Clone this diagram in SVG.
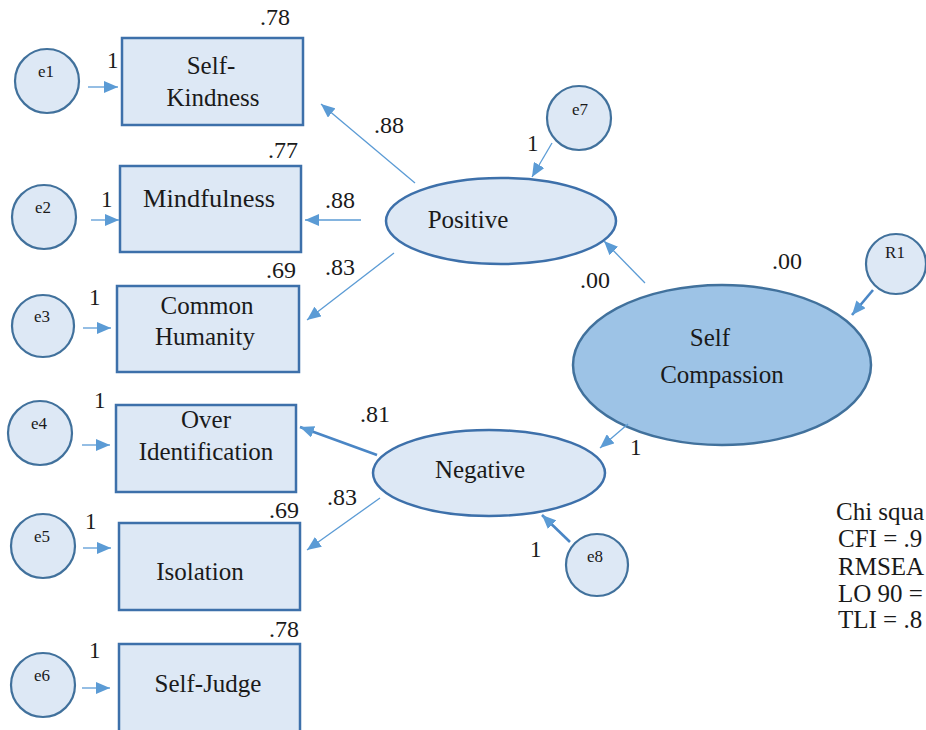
<svg xmlns="http://www.w3.org/2000/svg" width="926" height="730" viewBox="0 0 926 730">
  <defs>
    <marker id="arrow" markerUnits="userSpaceOnUse" markerWidth="15" markerHeight="12" refX="14" refY="6" orient="auto">
      <path d="M0,0 L14,6 L0,12 z" fill="#5b9bd5"/>
    </marker>
    <style>
      .box { fill: #dde8f5; stroke: #3d70aa; stroke-width: 2.5; }
      .err { fill: #dde8f5; stroke: #41719c; stroke-width: 2.2; }
      .lat { fill: #dde8f5; stroke: #3d70aa; stroke-width: 2.5; }
      .main { fill: #9dc3e6; stroke: #41719c; stroke-width: 2.5; }
      .thin { stroke: #5b9bd5; stroke-width: 1.3; fill: none; marker-end: url(#arrow); }
      .thick { stroke: #4a86c5; stroke-width: 2.6; fill: none; marker-end: url(#arrow); }
    </style>
  </defs>

  <!-- indicators -->
  <g id="self-kindness">
    <rect class="box" x="122" y="38" width="181" height="87"/>
  </g>
  <g id="mindfulness">
    <rect class="box" x="120" y="166" width="181" height="86"/>
  </g>
  <g id="common-humanity">
    <rect class="box" x="117" y="286" width="182" height="86"/>
  </g>
  <g id="over-identification">
    <rect class="box" x="116" y="405" width="180" height="87"/>
  </g>
  <g id="isolation">
    <rect class="box" x="119" y="523" width="181" height="87"/>
  </g>
  <g id="self-judge">
    <rect class="box" x="119" y="644" width="181" height="88"/>
  </g>

  <!-- error terms -->
  <g id="e1"><circle class="err" cx="47" cy="81" r="32"/></g>
  <g id="e2"><circle class="err" cx="44" cy="217" r="32"/></g>
  <g id="e3"><circle class="err" cx="43" cy="326" r="31"/></g>
  <g id="e4"><circle class="err" cx="40" cy="433" r="32"/></g>
  <g id="e5"><circle class="err" cx="43" cy="546" r="32"/></g>
  <g id="e6"><circle class="err" cx="43" cy="685" r="32"/></g>
  <g id="e7"><circle class="err" cx="579" cy="118" r="32"/></g>
  <g id="e8"><circle class="err" cx="597" cy="565" r="31"/></g>
  <g id="r1"><circle class="err" cx="896" cy="264" r="30"/></g>

  <!-- latent factors -->
  <g id="positive">
    <ellipse class="lat" cx="501" cy="221" rx="115" ry="43"/>
  </g>
  <g id="negative">
    <ellipse class="lat" cx="489" cy="473" rx="116" ry="43"/>
  </g>
  <g id="self-compassion">
    <ellipse class="main" cx="722" cy="365" rx="149" ry="80"/>
  </g>

  <!-- paths -->
  <g id="connectors">
    <line class="thin" x1="88" y1="87" x2="118" y2="87"/>
    <line class="thin" x1="91" y1="220" x2="119" y2="220"/>
    <line class="thin" x1="83" y1="328" x2="111" y2="328"/>
    <line class="thin" x1="82" y1="445" x2="110" y2="445"/>
    <line class="thin" x1="83" y1="548" x2="111" y2="548"/>
    <line class="thin" x1="82" y1="688" x2="110" y2="688"/>

    <line class="thin" x1="415" y1="183" x2="321" y2="104"/>
    <line class="thin" x1="361" y1="220" x2="305" y2="220"/>
    <line class="thin" x1="394" y1="253" x2="307" y2="320"/>
    <line class="thin" x1="552" y1="143" x2="532" y2="177"/>
    <line class="thin" x1="645" y1="283" x2="604" y2="241"/>

    <line class="thick" x1="377" y1="455" x2="300" y2="427"/>
    <line class="thin" x1="380" y1="498" x2="307" y2="550"/>
    <line class="thin" x1="628" y1="424" x2="600" y2="448"/>
    <line class="thick" x1="570" y1="542" x2="542" y2="515"/>
    <line class="thick" x1="873" y1="290" x2="852" y2="315"/>
  </g>

  <!-- all lettering, set in a Times-metric serif -->
  <g id="labels" font-family="Liberation Serif, Times New Roman, serif" fill="#1a1a1a">
    <g font-size="25" text-anchor="middle">
      <text x="211" y="74">Self-</text>
      <text x="213" y="106">Kindness</text>
      <text x="209" y="207" textLength="132" lengthAdjust="spacingAndGlyphs">Mindfulness</text>
      <text x="207" y="314">Common</text>
      <text x="205" y="345">Humanity</text>
      <text x="206" y="428">Over</text>
      <text x="206" y="460">Identification</text>
      <text x="200" y="580">Isolation</text>
      <text x="208" y="692">Self-Judge</text>
      <text x="468" y="228">Positive</text>
      <text x="480" y="478">Negative</text>
      <text x="710" y="346">Self</text>
      <text x="722" y="383">Compassion</text>
    </g>
    <g font-size="24" text-anchor="end">
      <text x="290" y="25">.78</text>
      <text x="298" y="158">.77</text>
      <text x="296" y="278">.69</text>
      <text x="299" y="518">.69</text>
      <text x="299" y="637">.78</text>
    </g>
    <g font-size="24">
      <text x="772" y="269">.00</text>
      <text x="374" y="133">.88</text>
      <text x="325" y="208">.88</text>
      <text x="325" y="275">.83</text>
      <text x="580" y="288">.00</text>
      <text x="360" y="422">.81</text>
      <text x="327" y="505">.83</text>
    </g>
    <g font-size="17" text-anchor="middle">
      <text x="46" y="77">e1</text>
      <text x="43" y="213">e2</text>
      <text x="42" y="322">e3</text>
      <text x="39" y="429">e4</text>
      <text x="42" y="542">e5</text>
      <text x="42" y="681">e6</text>
      <text x="580" y="115">e7</text>
      <text x="595" y="562">e8</text>
      <text x="895" y="258">R1</text>
    </g>
    <g font-size="23">
      <text x="107" y="68">1</text>
      <text x="101" y="207">1</text>
      <text x="89" y="305">1</text>
      <text x="94" y="408">1</text>
      <text x="85" y="529">1</text>
      <text x="89" y="658">1</text>
      <text x="527" y="151">1</text>
      <text x="630" y="455">1</text>
      <text x="530" y="557">1</text>
    </g>
    <g id="fit" font-size="25">
      <text x="836" y="520">Chi squa</text>
      <text x="838" y="547">CFI = .9</text>
      <text x="838" y="575">RMSEA</text>
      <text x="838" y="602">LO 90 =</text>
      <text x="838" y="628">TLI = .8</text>
    </g>
  </g>
</svg>
